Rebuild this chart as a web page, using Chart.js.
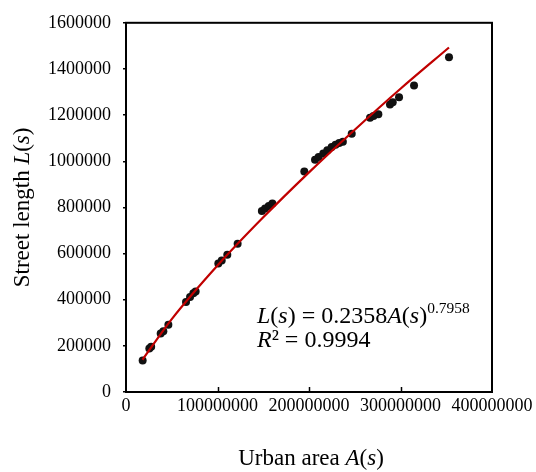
<!DOCTYPE html>
<html>
<head>
<meta charset="utf-8">
<script src="https://cdn.jsdelivr.net/npm/chart.js@4.4.1/dist/chart.umd.min.js"></script>
<style>
  html, body { margin: 0; padding: 0; background: #fff; }
  canvas { display: block; }
</style>
</head>
<body>
<canvas id="chart" width="536" height="472"></canvas>
<script>
// urban area A(s) and street length L(s)
const areaValues = [
  18.2e6, 25.5e6, 27.5e6, 37.9e6, 40.8e6, 46.3e6, 65.6e6, 70.0e6, 73.6e6, 76.1e6,
  100.9e6, 104.6e6, 110.7e6, 122.0e6, 148.5e6, 152.0e6, 156.0e6, 160.0e6, 194.9e6,
  206.6e6, 210.5e6, 215.6e6, 220.0e6, 224.8e6, 229.0e6, 233.0e6, 237.0e6, 246.7e6,
  266.7e6, 270.5e6, 275.8e6, 288.5e6, 291.5e6, 298.4e6, 314.8e6, 353.0e6
];
const lengthValues = [
  136000, 188000, 196000, 253000, 263000, 291000, 390000, 412000, 428000, 436000,
  557000, 570000, 595000, 642000, 784000, 795000, 806000, 817000, 956000,
  1006000, 1018000, 1034000, 1048000, 1062000, 1072000, 1079000, 1085000, 1119000,
  1188000, 1196000, 1204000, 1246000, 1256000, 1277000, 1328000, 1451000
];

// red power trendline
const fitArea = [18e6, 50e6, 100e6, 150e6, 200e6, 250e6, 300e6, 353e6];
const fitLength = [139800, 315800, 548200, 756900, 951800, 1136600, 1314200, 1493000];

const xTicks = [0, 100000000, 200000000, 300000000, 400000000];
const yTicks = [0, 200000, 400000, 600000, 800000, 1000000, 1200000, 1400000, 1600000];

const exponentText = "0.7958";
const rSquaredText = "0.9994";

const SERIF = '"Liberation Serif", "Times New Roman", serif';

function drawRuns(ctx, runs, x, y, align) {
  let total = 0;
  runs.forEach(r => {
    ctx.font = (r.italic ? "italic " : "") + r.size + "px " + SERIF;
    r.w = ctx.measureText(r.text).width;
    total += r.w;
  });
  let cx = align === "center" ? x - total / 2 : x;
  runs.forEach(r => {
    ctx.font = (r.italic ? "italic " : "") + r.size + "px " + SERIF;
    ctx.fillText(r.text, cx, y + (r.dy || 0));
    cx += r.w;
  });
}

const decorations = {
  id: "decorations",
  afterDraw(chart) {
    const ctx = chart.ctx;
    const area = chart.chartArea;
    const xs = chart.scales.x;
    ctx.save();
    ctx.strokeStyle = "#000";
    ctx.lineWidth = 2;
    ctx.strokeRect(area.left, area.top, area.right - area.left, area.bottom - area.top);

    // inward tick marks on x axis
    ctx.lineWidth = 1.5;
    xTicks.slice(1, -1).forEach(v => {
      const px = Math.round(xs.getPixelForValue(v)) + 0.5;
      ctx.beginPath();
      ctx.moveTo(px, area.bottom);
      ctx.lineTo(px, area.bottom - 5);
      ctx.stroke();
    });

    ctx.fillStyle = "#000";
    ctx.textBaseline = "alphabetic";
    ctx.textAlign = "left";

    // x axis title
    drawRuns(ctx, [
      { text: "Urban area ", size: 23 },
      { text: "A", size: 23, italic: true },
      { text: "(", size: 23 },
      { text: "s", size: 23, italic: true },
      { text: ")", size: 23 }
    ], (area.left + area.right) / 2 + 2, 465, "center");

    // y axis title
    ctx.save();
    ctx.translate(29, (area.top + area.bottom) / 2);
    ctx.rotate(-Math.PI / 2);
    drawRuns(ctx, [
      { text: "Street length ", size: 23 },
      { text: "L", size: 23, italic: true },
      { text: "(", size: 23 },
      { text: "s", size: 23, italic: true },
      { text: ")", size: 23 }
    ], 0, 0, "center");
    ctx.restore();

    // equation label
    drawRuns(ctx, [
      { text: "L", size: 24, italic: true },
      { text: "(", size: 24 },
      { text: "s", size: 24, italic: true },
      { text: ") = 0.2358", size: 24 },
      { text: "A", size: 24, italic: true },
      { text: "(", size: 24 },
      { text: "s", size: 24, italic: true },
      { text: ")", size: 24 },
      { text: exponentText, size: 15.5, dy: -10 }
    ], 257, 323, "left");
    drawRuns(ctx, [
      { text: "R", size: 24, italic: true },
      { text: "\u00B2 = " + rSquaredText, size: 24 }
    ], 257, 347, "left");
    ctx.restore();
  }
};

new Chart(document.getElementById("chart"), {
  type: "scatter",
  data: {
    datasets: [
      {
        type: "line",
        label: "fit",
        data: fitArea.map((x, i) => ({ x: x, y: fitLength[i] })),
        borderColor: "#C00000",
        borderWidth: 2.2,
        pointRadius: 0,
        cubicInterpolationMode: "monotone",
        fill: false
      },
      {
        label: "cities",
        data: areaValues.map((x, i) => ({ x: x, y: lengthValues[i] })),
        backgroundColor: "#111",
        borderColor: "#111",
        borderWidth: 0,
        pointRadius: 4
      }
    ]
  },
  options: {
    responsive: false,
    animation: false,
    devicePixelRatio: 1,
    layout: { padding: { top: 15, right: 44, left: 0, bottom: 0 } },
    plugins: { legend: { display: false }, tooltip: { enabled: false } },
    scales: {
      x: {
        type: "linear",
        min: 0,
        max: 400000000,
        afterBuildTicks: s => { s.ticks = xTicks.map(v => ({ value: v })); },
        afterFit: s => { s.height = 80; },
        grid: { display: false, drawTicks: false },
        border: { display: false },
        ticks: {
          color: "#000",
          padding: 3,
          maxRotation: 0,
          font: { family: SERIF, size: 18 },
          callback: v => String(v)
        }
      },
      y: {
        type: "linear",
        min: 0,
        max: 1600000,
        afterBuildTicks: s => { s.ticks = yTicks.map(v => ({ value: v })); },
        afterFit: s => { s.width = 126; },
        grid: { drawOnChartArea: false, drawTicks: true, tickLength: 3, color: "#000", lineWidth: 1.5 },
        border: { display: false },
        ticks: {
          color: "#000",
          padding: 12,
          font: { family: SERIF, size: 18 },
          callback: v => String(v)
        }
      }
    }
  },
  plugins: [decorations]
});
</script>
</body>
</html>
